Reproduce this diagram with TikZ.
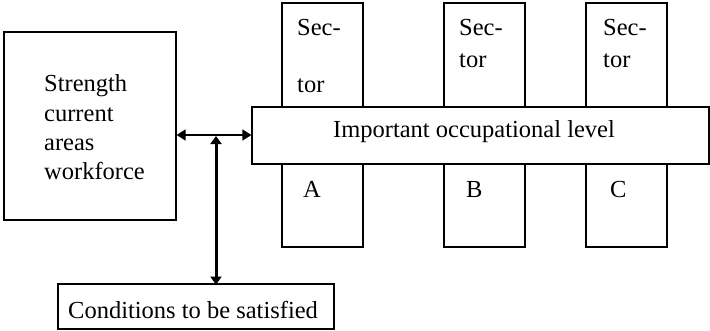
\documentclass[tikz,border=0pt]{standalone}
\usepackage{fontspec}
\setmainfont{Liberation Serif}
\usetikzlibrary{arrows.meta}
\begin{document}
\begin{tikzpicture}[x=1pt,y=-1pt,
  box/.style={draw=black,line width=1.2pt},
  area/.style={inner sep=0pt,outer sep=0pt},
  txt/.style={anchor=base west,inner sep=0pt,font=\fontsize{24.5}{29}\selectfont},
  hconn/.style={line width=1.6pt,{Triangle[length=9pt,width=11pt]}-{Triangle[length=9pt,width=11pt]}},
  vconn/.style={line width=3pt,{Triangle[length=8pt,width=11pt]}-{Triangle[length=8pt,width=11pt]}}]
\useasboundingbox[fill=white] (0,0) rectangle (710,330);
% left box
\draw[box] (4,32) rectangle (176,220);
\node[area,minimum width=172pt,minimum height=188pt] (left) at (90,126) {};
\node[txt] (t1) at (44,91) {Strength};
\node[txt] (t2) at (44,121) {current};
\node[txt] (t3) at (44,150) {areas};
\node[txt] (t4) at (44,179) {workforce};
% sectors
\draw[box] (282,3) rectangle (363,247);
\draw[box] (444,3) rectangle (525,247);
\draw[box] (586,3) rectangle (667,247);
\node[txt] (sa1) at (297,35) {Sec-};
\node[txt] (sa2) at (297,92) {tor};
\node[txt] (sa3) at (303,197) {A};
\node[txt] (sb1) at (459,35) {Sec-};
\node[txt] (sb2) at (459,67) {tor};
\node[txt] (sb3) at (466,197) {B};
\node[txt] (sc1) at (603,35) {Sec-};
\node[txt] (sc2) at (603,67) {tor};
\node[txt] (sc3) at (610,197) {C};
% long box
\draw[box,fill=white] (252,107) rectangle (709,164);
\node[area,minimum width=457pt,minimum height=57pt] (long) at (480.5,135.5) {};
\node[txt,anchor=base] (imp) at (474,137) {Important occupational level};
% conditions
\draw[box] (58,284) rectangle (334,329);
\node[area,minimum width=276pt,minimum height=45pt] (cond) at (196,306.5) {};
\node[txt] (ct) at (68,318) {Conditions to be satisfied};
% connectors
\coordinate (j) at (216,135);
\coordinate (jt) at (216,136);
\draw[hconn] ([xshift=0.6pt]left.east |- j) -- ([xshift=-0.6pt]long.west |- j);
\draw[vconn] (jt) -- ([yshift=-0.6pt]j |- cond.north);
\end{tikzpicture}
\end{document}
